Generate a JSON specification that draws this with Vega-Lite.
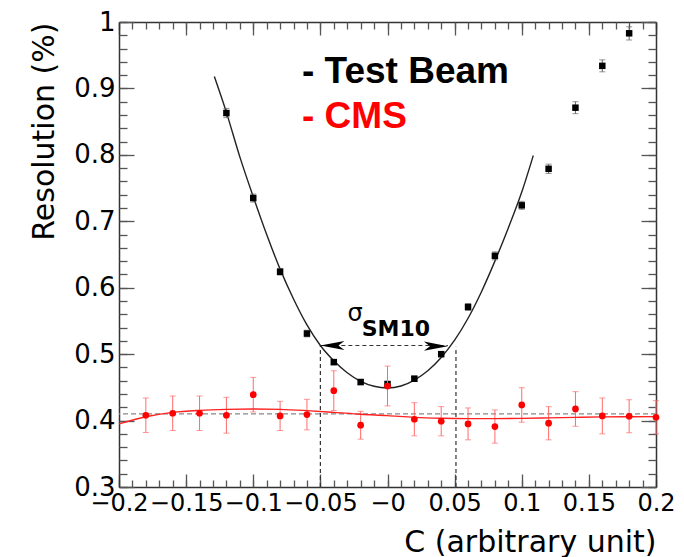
{
  "$schema": "https://vega.github.io/schema/vega-lite/v6.json",
  "autosize": "none",
  "width": 537,
  "height": 465,
  "padding": {"left": 119, "top": 22, "right": 28, "bottom": 70},
  "background": "white",
  "config": {
    "view": {"stroke": null},
    "axis": {"grid": false, "labelFont": "DejaVu Sans", "titleFont": "DejaVu Sans", "labelColor": "black", "titleColor": "black", "domainColor": "#333", "domainWidth": 1.5, "tickColor": "#555", "tickWidth": 1.3, "labelOverlap": false, "labelFlush": false, "labelBound": false}
  },
  "datasets": {
    "tb": [
      {"C": -0.12, "R": 0.863, "e": 0.007}, {"C": -0.1, "R": 0.735, "e": 0.006}, {"C": -0.08, "R": 0.624, "e": 0.005},
      {"C": -0.06, "R": 0.531, "e": 0.005}, {"C": -0.04, "R": 0.488, "e": 0.004}, {"C": -0.02, "R": 0.458, "e": 0.004},
      {"C": 0.0, "R": 0.455, "e": 0.004}, {"C": 0.02, "R": 0.463, "e": 0.004}, {"C": 0.04, "R": 0.5, "e": 0.004},
      {"C": 0.06, "R": 0.571, "e": 0.005}, {"C": 0.08, "R": 0.648, "e": 0.006}, {"C": 0.1, "R": 0.724, "e": 0.006},
      {"C": 0.12, "R": 0.779, "e": 0.007}, {"C": 0.14, "R": 0.871, "e": 0.009}, {"C": 0.16, "R": 0.934, "e": 0.009},
      {"C": 0.18, "R": 0.983, "e": 0.01}
    ],
    "cms": [
      {"C": -0.18, "R": 0.408, "e": 0.026}, {"C": -0.16, "R": 0.411, "e": 0.026}, {"C": -0.14, "R": 0.411, "e": 0.026},
      {"C": -0.12, "R": 0.408, "e": 0.027}, {"C": -0.1, "R": 0.439, "e": 0.026}, {"C": -0.08, "R": 0.407, "e": 0.022},
      {"C": -0.06, "R": 0.409, "e": 0.023}, {"C": -0.04, "R": 0.445, "e": 0.03}, {"C": -0.02, "R": 0.393, "e": 0.021},
      {"C": 0.0, "R": 0.452, "e": 0.03}, {"C": 0.02, "R": 0.402, "e": 0.025}, {"C": 0.04, "R": 0.399, "e": 0.022},
      {"C": 0.06, "R": 0.395, "e": 0.024}, {"C": 0.08, "R": 0.391, "e": 0.025}, {"C": 0.1, "R": 0.4235, "e": 0.026},
      {"C": 0.12, "R": 0.396, "e": 0.025}, {"C": 0.14, "R": 0.4175, "e": 0.026}, {"C": 0.16, "R": 0.407, "e": 0.027},
      {"C": 0.18, "R": 0.4065, "e": 0.025}, {"C": 0.2, "R": 0.405, "e": 0.025}
    ],
    "tbfit": [
      {"C": -0.129, "R": 0.918}, {"C": -0.12, "R": 0.864}, {"C": -0.11, "R": 0.797}, {"C": -0.1, "R": 0.737},
      {"C": -0.09, "R": 0.68}, {"C": -0.08, "R": 0.628}, {"C": -0.07, "R": 0.583}, {"C": -0.06, "R": 0.544},
      {"C": -0.05, "R": 0.513}, {"C": -0.04, "R": 0.49}, {"C": -0.03, "R": 0.472}, {"C": -0.02, "R": 0.459},
      {"C": -0.01, "R": 0.4516}, {"C": 0.0, "R": 0.449}, {"C": 0.01, "R": 0.452}, {"C": 0.02, "R": 0.461},
      {"C": 0.03, "R": 0.475}, {"C": 0.04, "R": 0.495}, {"C": 0.05, "R": 0.521}, {"C": 0.06, "R": 0.554},
      {"C": 0.07, "R": 0.594}, {"C": 0.08, "R": 0.64}, {"C": 0.09, "R": 0.69}, {"C": 0.1, "R": 0.744},
      {"C": 0.1086, "R": 0.799}
    ],
    "cmsfit": [
      {"C": -0.2, "R": 0.395}, {"C": -0.18, "R": 0.4058}, {"C": -0.16, "R": 0.4124}, {"C": -0.14, "R": 0.4154},
      {"C": -0.12, "R": 0.4169}, {"C": -0.1, "R": 0.4174}, {"C": -0.08, "R": 0.4169}, {"C": -0.06, "R": 0.415},
      {"C": -0.04, "R": 0.4124}, {"C": -0.02, "R": 0.4095}, {"C": 0.0, "R": 0.4074}, {"C": 0.02, "R": 0.4048},
      {"C": 0.04, "R": 0.4035}, {"C": 0.06, "R": 0.403}, {"C": 0.08, "R": 0.403}, {"C": 0.1, "R": 0.4033},
      {"C": 0.12, "R": 0.404}, {"C": 0.14, "R": 0.4048}, {"C": 0.16, "R": 0.4055}, {"C": 0.18, "R": 0.4058},
      {"C": 0.2, "R": 0.406}
    ],
    "vlines": [{"C": -0.05, "lo": 0.3, "hi": 0.513}, {"C": 0.051, "lo": 0.3, "hi": 0.511}],
    "arrow": [{"C1": -0.05, "C2": 0.045, "R": 0.513}],
    "heads": [{"C": -0.05, "R": 0.513, "dir": "left"}, {"C": 0.045, "R": 0.512, "dir": "right"}],
    "legend": [
      {"C": -0.0637, "R": 0.908, "t": "- Test Beam", "s": "tb"},
      {"C": -0.0637, "R": 0.8404, "t": "- CMS", "s": "cms"}
    ]
  },
  "layer": [
    {
      "data": {"values": [{"R": 0.41}]},
      "mark": {"type": "rule", "color": "#888", "strokeDash": [5, 3], "strokeWidth": 1.3},
      "encoding": {"y": {"field": "R", "type": "quantitative", "scale": {"domain": [0.3, 1.0], "nice": false, "zero": false}, "axis": null}}
    },
    {
      "data": {"name": "vlines"},
      "mark": {"type": "rule", "color": "#333", "strokeDash": [4, 3], "strokeWidth": 1.2},
      "encoding": {
        "x": {"field": "C", "type": "quantitative", "scale": {"domain": [-0.2, 0.2], "nice": false, "zero": false}, "axis": null},
        "y": {"field": "lo", "type": "quantitative", "scale": {"domain": [0.3, 1.0], "nice": false, "zero": false}, "axis": null},
        "y2": {"field": "hi"}
      }
    },
    {
      "data": {"name": "arrow"},
      "mark": {"type": "rule", "color": "#333", "strokeDash": [4, 3], "strokeWidth": 1.2},
      "encoding": {
        "x": {"field": "C1", "type": "quantitative", "scale": {"domain": [-0.2, 0.2], "nice": false, "zero": false}, "axis": null},
        "x2": {"field": "C2"},
        "y": {"field": "R", "type": "quantitative", "scale": {"domain": [0.3, 1.0], "nice": false, "zero": false}, "axis": null}
      }
    },
    {
      "data": {"name": "heads"},
      "transform": [{"filter": "datum.dir == 'left'"}],
      "mark": {"type": "point", "shape": "M0,0L2,-0.38L1.5,0L2,0.38Z", "size": 576, "filled": true, "color": "black", "opacity": 1},
      "encoding": {
        "x": {"field": "C", "type": "quantitative", "axis": null},
        "y": {"field": "R", "type": "quantitative", "axis": null}
      }
    },
    {
      "data": {"name": "heads"},
      "transform": [{"filter": "datum.dir == 'right'"}],
      "mark": {"type": "point", "shape": "M0,0L-2,-0.38L-1.5,0L-2,0.38Z", "size": 576, "filled": true, "color": "black", "opacity": 1},
      "encoding": {
        "x": {"field": "C", "type": "quantitative", "axis": null},
        "y": {"field": "R", "type": "quantitative", "axis": null}
      }
    },
    {
      "data": {"name": "tbfit"},
      "mark": {"type": "line", "color": "#222", "strokeWidth": 1.4, "interpolate": "monotone"},
      "encoding": {
        "x": {"field": "C", "type": "quantitative", "scale": {"domain": [-0.2, 0.2], "nice": false, "zero": false},
          "axis": {"orient": "bottom", "values": [-0.2, -0.15, -0.1, -0.05, 0, 0.05, 0.1, 0.15, 0.2], "tickSize": -13, "labelPadding": 17, "labelFontSize": 24,
            "labelExpr": "datum.value == 0 ? '\u22120' : format(datum.value, '~g')",
            "title": "C (arbitrary unit)", "titleAnchor": "end", "titleFontSize": 30, "titleFontWeight": "normal", "titlePadding": 12}},
        "y": {"field": "R", "type": "quantitative", "scale": {"domain": [0.3, 1.0], "nice": false, "zero": false},
          "axis": {"orient": "left", "values": [0.3, 0.4, 0.5, 0.6, 0.7, 0.8, 0.9, 1.0], "tickSize": -15, "labelPadding": 19, "labelFontSize": 26,
            "labelExpr": "format(datum.value, '~g')",
            "title": "Resolution (%)", "titleAnchor": "end", "titleFontSize": 30, "titleFontWeight": "normal", "titlePadding": 14}}
      }
    },
    {
      "data": {"name": "tb"},
      "mark": {"type": "errorbar", "ticks": {"size": 6, "color": "#666"}, "rule": {"color": "#666"}, "color": "#666"},
      "encoding": {
        "x": {"field": "C", "type": "quantitative", "axis": null},
        "y": {"field": "R", "type": "quantitative", "axis": null},
        "yError": {"field": "e"}
      }
    },
    {
      "data": {"name": "tb"},
      "mark": {"type": "point", "shape": "square", "filled": true, "color": "black", "size": 42, "opacity": 1},
      "encoding": {
        "x": {"field": "C", "type": "quantitative",
          "axis": {"orient": "bottom", "values": [-0.2,-0.19,-0.18,-0.17,-0.16,-0.15,-0.14,-0.13,-0.12,-0.11,-0.1,-0.09,-0.08,-0.07,-0.06,-0.05,-0.04,-0.03,-0.02,-0.01,0,0.01,0.02,0.03,0.04,0.05,0.06,0.07,0.08,0.09,0.1,0.11,0.12,0.13,0.14,0.15,0.16,0.17,0.18,0.19,0.2], "tickSize": -7, "labels": false, "domain": false, "title": null}},
        "y": {"field": "R", "type": "quantitative",
          "axis": {"orient": "left", "values": [0.3,0.32,0.34,0.36,0.38,0.4,0.42,0.44,0.46,0.48,0.5,0.52,0.54,0.56,0.58,0.6,0.62,0.64,0.66,0.68,0.7,0.72,0.74,0.76,0.78,0.8,0.82,0.84,0.86,0.88,0.9,0.92,0.94,0.96,0.98,1.0], "tickSize": -8, "labels": false, "domain": false, "title": null}}
      }
    },
    {
      "data": {"name": "cms"},
      "mark": {"type": "errorbar", "ticks": {"size": 6, "color": "#ff6b6b"}, "rule": {"color": "#ff6b6b"}, "color": "#ff6b6b"},
      "encoding": {
        "x": {"field": "C", "type": "quantitative", "axis": null},
        "y": {"field": "R", "type": "quantitative", "axis": null},
        "yError": {"field": "e"}
      }
    },
    {
      "data": {"name": "cmsfit"},
      "mark": {"type": "line", "color": "#ff2020", "strokeWidth": 1.4, "interpolate": "monotone"},
      "encoding": {
        "x": {"field": "C", "type": "quantitative",
          "axis": {"orient": "top", "values": [-0.2, -0.15, -0.1, -0.05, 0, 0.05, 0.1, 0.15, 0.2], "tickSize": -13, "labels": false, "title": null}},
        "y": {"field": "R", "type": "quantitative",
          "axis": {"orient": "right", "values": [0.3, 0.4, 0.5, 0.6, 0.7, 0.8, 0.9, 1.0], "tickSize": -15, "labels": false, "title": null}}
      }
    },
    {
      "data": {"name": "cms"},
      "mark": {"type": "point", "shape": "circle", "filled": true, "color": "#ff0000", "size": 45, "opacity": 1},
      "encoding": {
        "x": {"field": "C", "type": "quantitative",
          "axis": {"orient": "top", "values": [-0.2,-0.19,-0.18,-0.17,-0.16,-0.15,-0.14,-0.13,-0.12,-0.11,-0.1,-0.09,-0.08,-0.07,-0.06,-0.05,-0.04,-0.03,-0.02,-0.01,0,0.01,0.02,0.03,0.04,0.05,0.06,0.07,0.08,0.09,0.1,0.11,0.12,0.13,0.14,0.15,0.16,0.17,0.18,0.19,0.2], "tickSize": -7, "labels": false, "domain": false, "title": null}},
        "y": {"field": "R", "type": "quantitative",
          "axis": {"orient": "right", "values": [0.3,0.32,0.34,0.36,0.38,0.4,0.42,0.44,0.46,0.48,0.5,0.52,0.54,0.56,0.58,0.6,0.62,0.64,0.66,0.68,0.7,0.72,0.74,0.76,0.78,0.8,0.82,0.84,0.86,0.88,0.9,0.92,0.94,0.96,0.98,1.0], "tickSize": -8, "labels": false, "domain": false, "title": null}}
      }
    },
    {
      "data": {"values": [{"C": -0.0242, "R": 0.55, "t": "σ"}]},
      "mark": {"type": "text", "font": "DejaVu Sans", "fontSize": 24, "align": "center", "baseline": "alphabetic", "color": "black"},
      "encoding": {
        "x": {"field": "C", "type": "quantitative", "axis": null},
        "y": {"field": "R", "type": "quantitative", "axis": null},
        "text": {"field": "t"}
      }
    },
    {
      "data": {"values": [{"C": -0.0192, "R": 0.5278, "t": "SM10"}]},
      "mark": {"type": "text", "font": "DejaVu Sans", "fontSize": 22, "fontWeight": "bold", "align": "left", "baseline": "alphabetic", "color": "black"},
      "encoding": {
        "x": {"field": "C", "type": "quantitative", "axis": null},
        "y": {"field": "R", "type": "quantitative", "axis": null},
        "text": {"field": "t"}
      }
    },
    {
      "data": {"name": "legend"},
      "mark": {"type": "text", "font": "Liberation Sans", "fontSize": 37, "fontWeight": "bold", "align": "left", "baseline": "alphabetic"},
      "encoding": {
        "x": {"field": "C", "type": "quantitative", "axis": null},
        "y": {"field": "R", "type": "quantitative", "axis": null},
        "text": {"field": "t"},
        "color": {"field": "s", "type": "nominal", "scale": {"domain": ["tb", "cms"], "range": ["#000000", "#ff0000"]}, "legend": null}
      }
    }
  ],
  "resolve": {"axis": {"x": "independent", "y": "independent"}}
}
